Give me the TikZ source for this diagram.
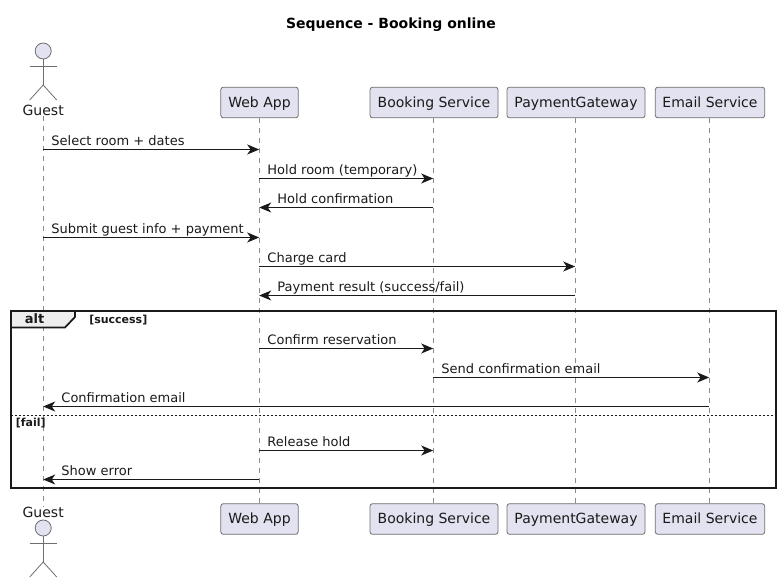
\documentclass[tikz,border=0pt]{standalone}
\usepackage{fontspec}
\setmainfont{DejaVu Sans}
\usetikzlibrary{arrows.meta}

\definecolor{partfill}{HTML}{E2E2F0}
\definecolor{partline}{HTML}{6E6E6E}
\definecolor{tabfill}{HTML}{EEEEEE}
\definecolor{inktext}{HTML}{1A1A1A}

\newcommand*{\xguest}{43.2}
\newcommand*{\xweb}{259.2}
\newcommand*{\xbook}{433.2}
\newcommand*{\xpay}{575.2}
\newcommand*{\xmail}{709.2}
\newcommand*{\ytop}{102.5}
\newcommand*{\ybot}{519}

\begin{document}
\begin{tikzpicture}
[
	x=0.75pt,y=-0.75pt,
	part/.style={draw=partline,fill=partfill,rounded corners=1.9pt,line width=0.6pt,inner sep=0pt,minimum height=23pt,text height=9pt,text depth=2pt,font=\fontsize{10.5}{12}\selectfont,text=inktext},
	actorname/.style={inner sep=0pt,font=\fontsize{10.5}{12}\selectfont,text=inktext},
	lifeline/.style={partline!80,line width=0.45pt,dash pattern=on 3.75pt off 3.75pt},
	actorline/.style={partline,line width=0.6pt},
	msg/.style={-{Stealth[length=9pt,width=7.5pt,inset=2.6pt]},inktext,line width=0.75pt},
	msglabel/.style={anchor=base west,inner sep=0pt,font=\fontsize{9.75}{12}\selectfont,text=inktext},
	guard/.style={anchor=base west,inner sep=0pt,font=\fontsize{8.25}{10}\selectfont\bfseries,text=inktext}
]
	\useasboundingbox (0,0) rectangle (780,584);

	\node[font=\fontsize{10.5}{12}\selectfont\bfseries] (title) at (391,25) {Sequence - Booking online};

	% participants
	\node[actorname] (guesttop) at (\xguest,110) {Guest};
	\node[actorname] (guestbot) at (\xguest,512) {Guest};
	\node[part,minimum width=58pt] (webtop) at (259.5,\ytop) {Web App};
	\node[part,minimum width=58pt] (webbot) at (259.5,\ybot) {Web App};
	\node[part,minimum width=96pt] (booktop) at (434,\ytop) {Booking Service};
	\node[part,minimum width=96pt] (bookbot) at (434,\ybot) {Booking Service};
	\node[part,minimum width=103.5pt] (paytop) at (576,\ytop) {PaymentGateway};
	\node[part,minimum width=103.5pt] (paybot) at (576,\ybot) {PaymentGateway};
	\node[part,minimum width=82pt] (mailtop) at (710,\ytop) {Email Service};
	\node[part,minimum width=82pt] (mailbot) at (710,\ybot) {Email Service};

	% stick figures
	\foreach \y in {51,528} {
		\draw[actorline,fill=partfill] (\xguest,\y) circle (8);
		\draw[actorline] (\xguest,\y+8) -- (\xguest,\y+34);
		\draw[actorline] (\xguest-13.5,\y+15) -- (\xguest+13.5,\y+15);
		\draw[actorline] (\xguest-13.5,\y+49) -- (\xguest,\y+34) -- (\xguest+13.5,\y+49);
	}

	% lifelines
	\draw[lifeline] (guesttop.south -| \xguest,0) -- (guestbot.north -| \xguest,0);
	\draw[lifeline] (webtop.south -| \xweb,0) -- (webbot.north -| \xweb,0);
	\draw[lifeline] (booktop.south -| \xbook,0) -- (bookbot.north -| \xbook,0);
	\draw[lifeline] (paytop.south -| \xpay,0) -- (paybot.north -| \xpay,0);
	\draw[lifeline] (mailtop.south -| \xmail,0) -- (mailbot.north -| \xmail,0);

	% messages
	\foreach \n/\xa/\xb/\y/\dx/\txt in {
		1/\xguest/\xweb/149.5/8/{Select room + dates},
		2/\xweb/\xbook/178.5/8/{Hold room (temporary)},
		3/\xbook/\xweb/207.5/18/{Hold confirmation},
		4/\xguest/\xweb/237.5/8/{Submit guest info + payment},
		5/\xweb/\xpay/266.5/8/{Charge card},
		6/\xpay/\xweb/295.5/18/{Payment result (success/fail)},
		7/\xweb/\xbook/348.5/8/{Confirm reservation},
		8/\xbook/\xmail/377.5/8/{Send confirmation email},
		9/\xmail/\xguest/406.5/18/{Confirmation email},
		10/\xweb/\xbook/450.5/8/{Release hold},
		11/\xweb/\xguest/479.5/18/{Show error}
	} {
		\coordinate (from\n) at (\xa,\y);
		\coordinate (to\n) at (\xb,\y);
		\draw[msg] (from\n) -- (to\n);
		\pgfmathsetmacro{\xlabel}{min(\xa,\xb)+\dx}
		\node[msglabel] (label\n) at (\xlabel,\y-4) {\txt};
	}

	% alt frame
	\draw[fill=tabfill,draw=none] (10.5,310.5) -- (75,310.5) -- (75,317) -- (65,327.5) -- (10.5,327.5) -- cycle;
	\draw[line width=1.5pt,inktext] (10.5,310.5) rectangle (775.5,487.5);
	\draw[line width=1.3pt,inktext] (75,310.5) -- (75,317) -- (65,327.5) -- (10.5,327.5);
	\node[anchor=base,inner sep=0pt,font=\fontsize{9.75}{12}\selectfont\bfseries,text=inktext] (alttag) at (34.5,323) {alt};
	\node[guard] (success) at (89,323) {[success]};
	\coordinate (sepleft) at (10.5,415.5);
	\coordinate (sepright) at (775.5,415.5);
	\draw[inktext,line width=0.5pt,dash pattern=on 1.5pt off 1.5pt] (sepleft) -- (sepright);
	\node[guard] (fail) at (15.5,426) {[fail]};

\end{tikzpicture}
\end{document}
